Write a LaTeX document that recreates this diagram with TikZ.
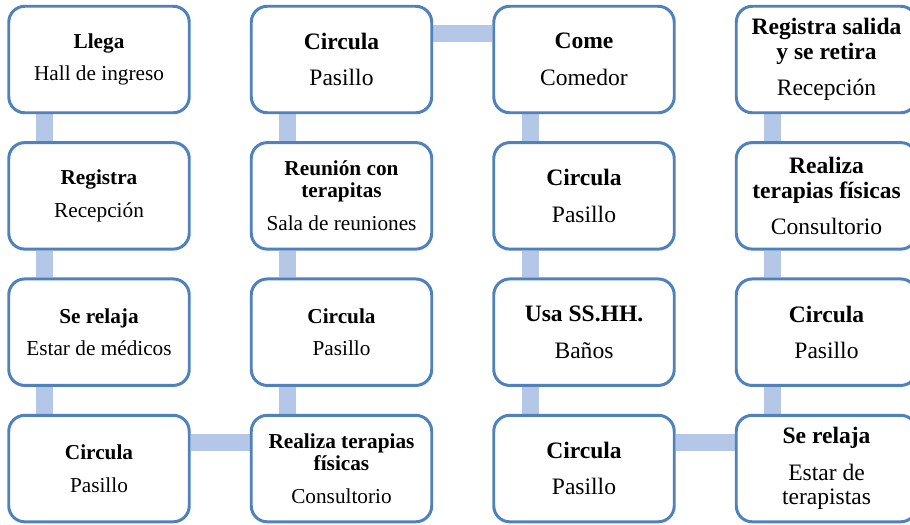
\documentclass[tikz,border=0pt]{standalone}
\usepackage{fontspec}
\setmainfont{Liberation Serif}
\usepackage{tikz}
\usetikzlibrary{shapes,backgrounds}
\definecolor{borde}{HTML}{4F81BD}
\definecolor{barra}{HTML}{B4C7E7}
\tikzstyle{etapa} = [draw=borde, fill=white, rectangle, rounded corners=0.32cm, line width=1.7pt, minimum width=3.61cm, minimum height=2.13cm, align=center, font=\fontsize{12.1}{12.6}\selectfont]
\tikzstyle{etapag} = [etapa, font=\fontsize{13.4}{14}\selectfont]
\tikzstyle{enlace} = [draw=barra, line width=0.34cm]
\newcommand{\paso}[2]{\textbf{#1}\\[0.5em]#2}

\begin{document}
\begin{tikzpicture}[node distance=2.727cm]
    \useasboundingbox (0,0) rectangle (18.2,-10.5);
    % Drawing blocks
    \node [etapa] (llega) at (1.98,-1.19) {\paso{Llega}{Hall de ingreso}};
    \node [etapa, below of=llega] (registra) {\paso{Registra}{Recepción}};
    \node [etapa, below of=registra] (relaja1) {\paso{Se relaja}{Estar de médicos}};
    \node [etapa, below of=relaja1] (circula1) {\paso{Circula}{Pasillo}};
    \node [etapa, right of=circula1, node distance=4.85cm] (terapia1) {\textbf{Realiza terapias}\\\textbf{físicas}\\[0.5em]Consultorio};
    \node [etapa, above of=terapia1] (circula2) {\paso{Circula}{Pasillo}};
    \node [etapa, above of=circula2] (reunion) {\textbf{Reunión con}\\\textbf{terapitas}\\[0.5em]Sala de reuniones};
    \node [etapag, above of=reunion] (circula3) {\paso{Circula}{Pasillo}};
    \node [etapag, right of=circula3, node distance=4.85cm] (come) {\paso{Come}{Comedor}};
    \node [etapag, below of=come] (circula4) {\paso{Circula}{Pasillo}};
    \node [etapag, below of=circula4] (usa) {\paso{Usa SS.HH.}{Baños}};
    \node [etapag, below of=usa] (circula5) {\paso{Circula}{Pasillo}};
    \node [etapag, right of=circula5, node distance=4.85cm] (relaja2) {\textbf{Se relaja}\\[0.5em]Estar de\\terapistas};
    \node [etapag, above of=relaja2] (circula6) {\paso{Circula}{Pasillo}};
    \node [etapag, above of=circula6] (terapia2) {\textbf{Realiza}\\\textbf{terapias físicas}\\[0.5em]Consultorio};
    \node [etapag, above of=terapia2] (salida) {\textbf{Registra salida}\\\textbf{y se retira}\\[0.5em]Recepción};

    % Connectors
    \begin{scope}[on background layer]
    \draw [enlace] ([xshift=-1.08cm]llega.south) -- ([xshift=-1.08cm]registra.north);
    \draw [enlace] ([xshift=-1.08cm]registra.south) -- ([xshift=-1.08cm]relaja1.north);
    \draw [enlace] ([xshift=-1.08cm]relaja1.south) -- ([xshift=-1.08cm]circula1.north);
    \draw [enlace] ([yshift=0.53cm]circula1.east) -- ([yshift=0.53cm]terapia1.west);
    \draw [enlace] ([xshift=-1.08cm]terapia1.north) -- ([xshift=-1.08cm]circula2.south);
    \draw [enlace] ([xshift=-1.08cm]circula2.north) -- ([xshift=-1.08cm]reunion.south);
    \draw [enlace] ([xshift=-1.08cm]reunion.north) -- ([xshift=-1.08cm]circula3.south);
    \draw [enlace] ([yshift=0.53cm]circula3.east) -- ([yshift=0.53cm]come.west);
    \draw [enlace] ([xshift=-1.08cm]come.south) -- ([xshift=-1.08cm]circula4.north);
    \draw [enlace] ([xshift=-1.08cm]circula4.south) -- ([xshift=-1.08cm]usa.north);
    \draw [enlace] ([xshift=-1.08cm]usa.south) -- ([xshift=-1.08cm]circula5.north);
    \draw [enlace] ([yshift=0.53cm]circula5.east) -- ([yshift=0.53cm]relaja2.west);
    \draw [enlace] ([xshift=-1.08cm]relaja2.north) -- ([xshift=-1.08cm]circula6.south);
    \draw [enlace] ([xshift=-1.08cm]circula6.north) -- ([xshift=-1.08cm]terapia2.south);
    \draw [enlace] ([xshift=-1.08cm]terapia2.north) -- ([xshift=-1.08cm]salida.south);
    \end{scope}
\end{tikzpicture}
\end{document}
